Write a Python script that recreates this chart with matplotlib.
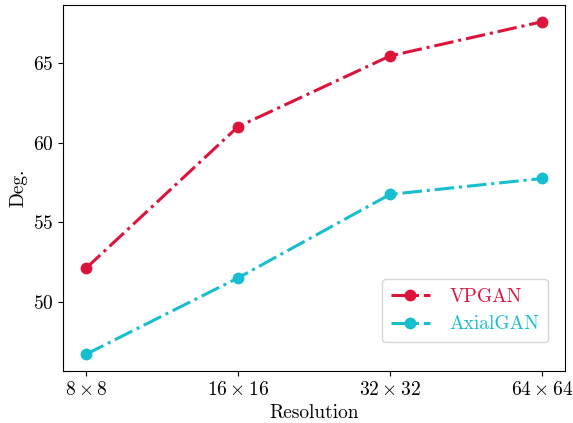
import matplotlib
matplotlib.use("Agg")
import matplotlib.pyplot as plt
import numpy as np

plt.rcParams["font.family"] = "serif"
plt.rcParams["font.serif"] = ["cmr10"]
plt.rcParams["mathtext.fontset"] = "cm"
plt.rcParams["axes.formatter.use_mathtext"] = True
plt.rcParams["axes.unicode_minus"] = False

resolutions = [r"$8 \times 8$", r"$16 \times 16$", r"$32 \times 32$", r"$64 \times 64$"]
vpgan = [52.1, 61.0, 65.45, 67.6]
axialgan = [46.7, 51.5, 56.75, 57.75]

series = [("VPGAN", vpgan, "#dc143c"), ("AxialGAN", axialgan, "#17becf")]

x = np.arange(len(resolutions))
figure, axis = plt.subplots(figsize=(5.73, 4.23), dpi=100)
for name, values, color in series:
    axis.plot(x, values, linestyle="-.", marker="o", color=color,
              linewidth=2.2, markersize=7.5, label=name)

axis.set_xticks(x)
axis.set_xticklabels(resolutions)
axis.set_yticks([50, 55, 60, 65])
axis.tick_params(labelsize=14)
axis.set_xlabel("Resolution", fontsize=14)
axis.set_ylabel("Deg.", fontsize=14)
legend = axis.legend(loc="lower right", bbox_to_anchor=(0.966, 0.079),
                     fontsize=14, borderpad=0.45, borderaxespad=0.0,
                     handlelength=2.0, handletextpad=1.0)
for text, (_, _, color) in zip(legend.get_texts(), series):
    text.set_color(color)

figure.subplots_adjust(left=0.11, right=0.986, top=0.988, bottom=0.123)
figure.savefig("out.png", dpi=100)
plt.close(figure)
